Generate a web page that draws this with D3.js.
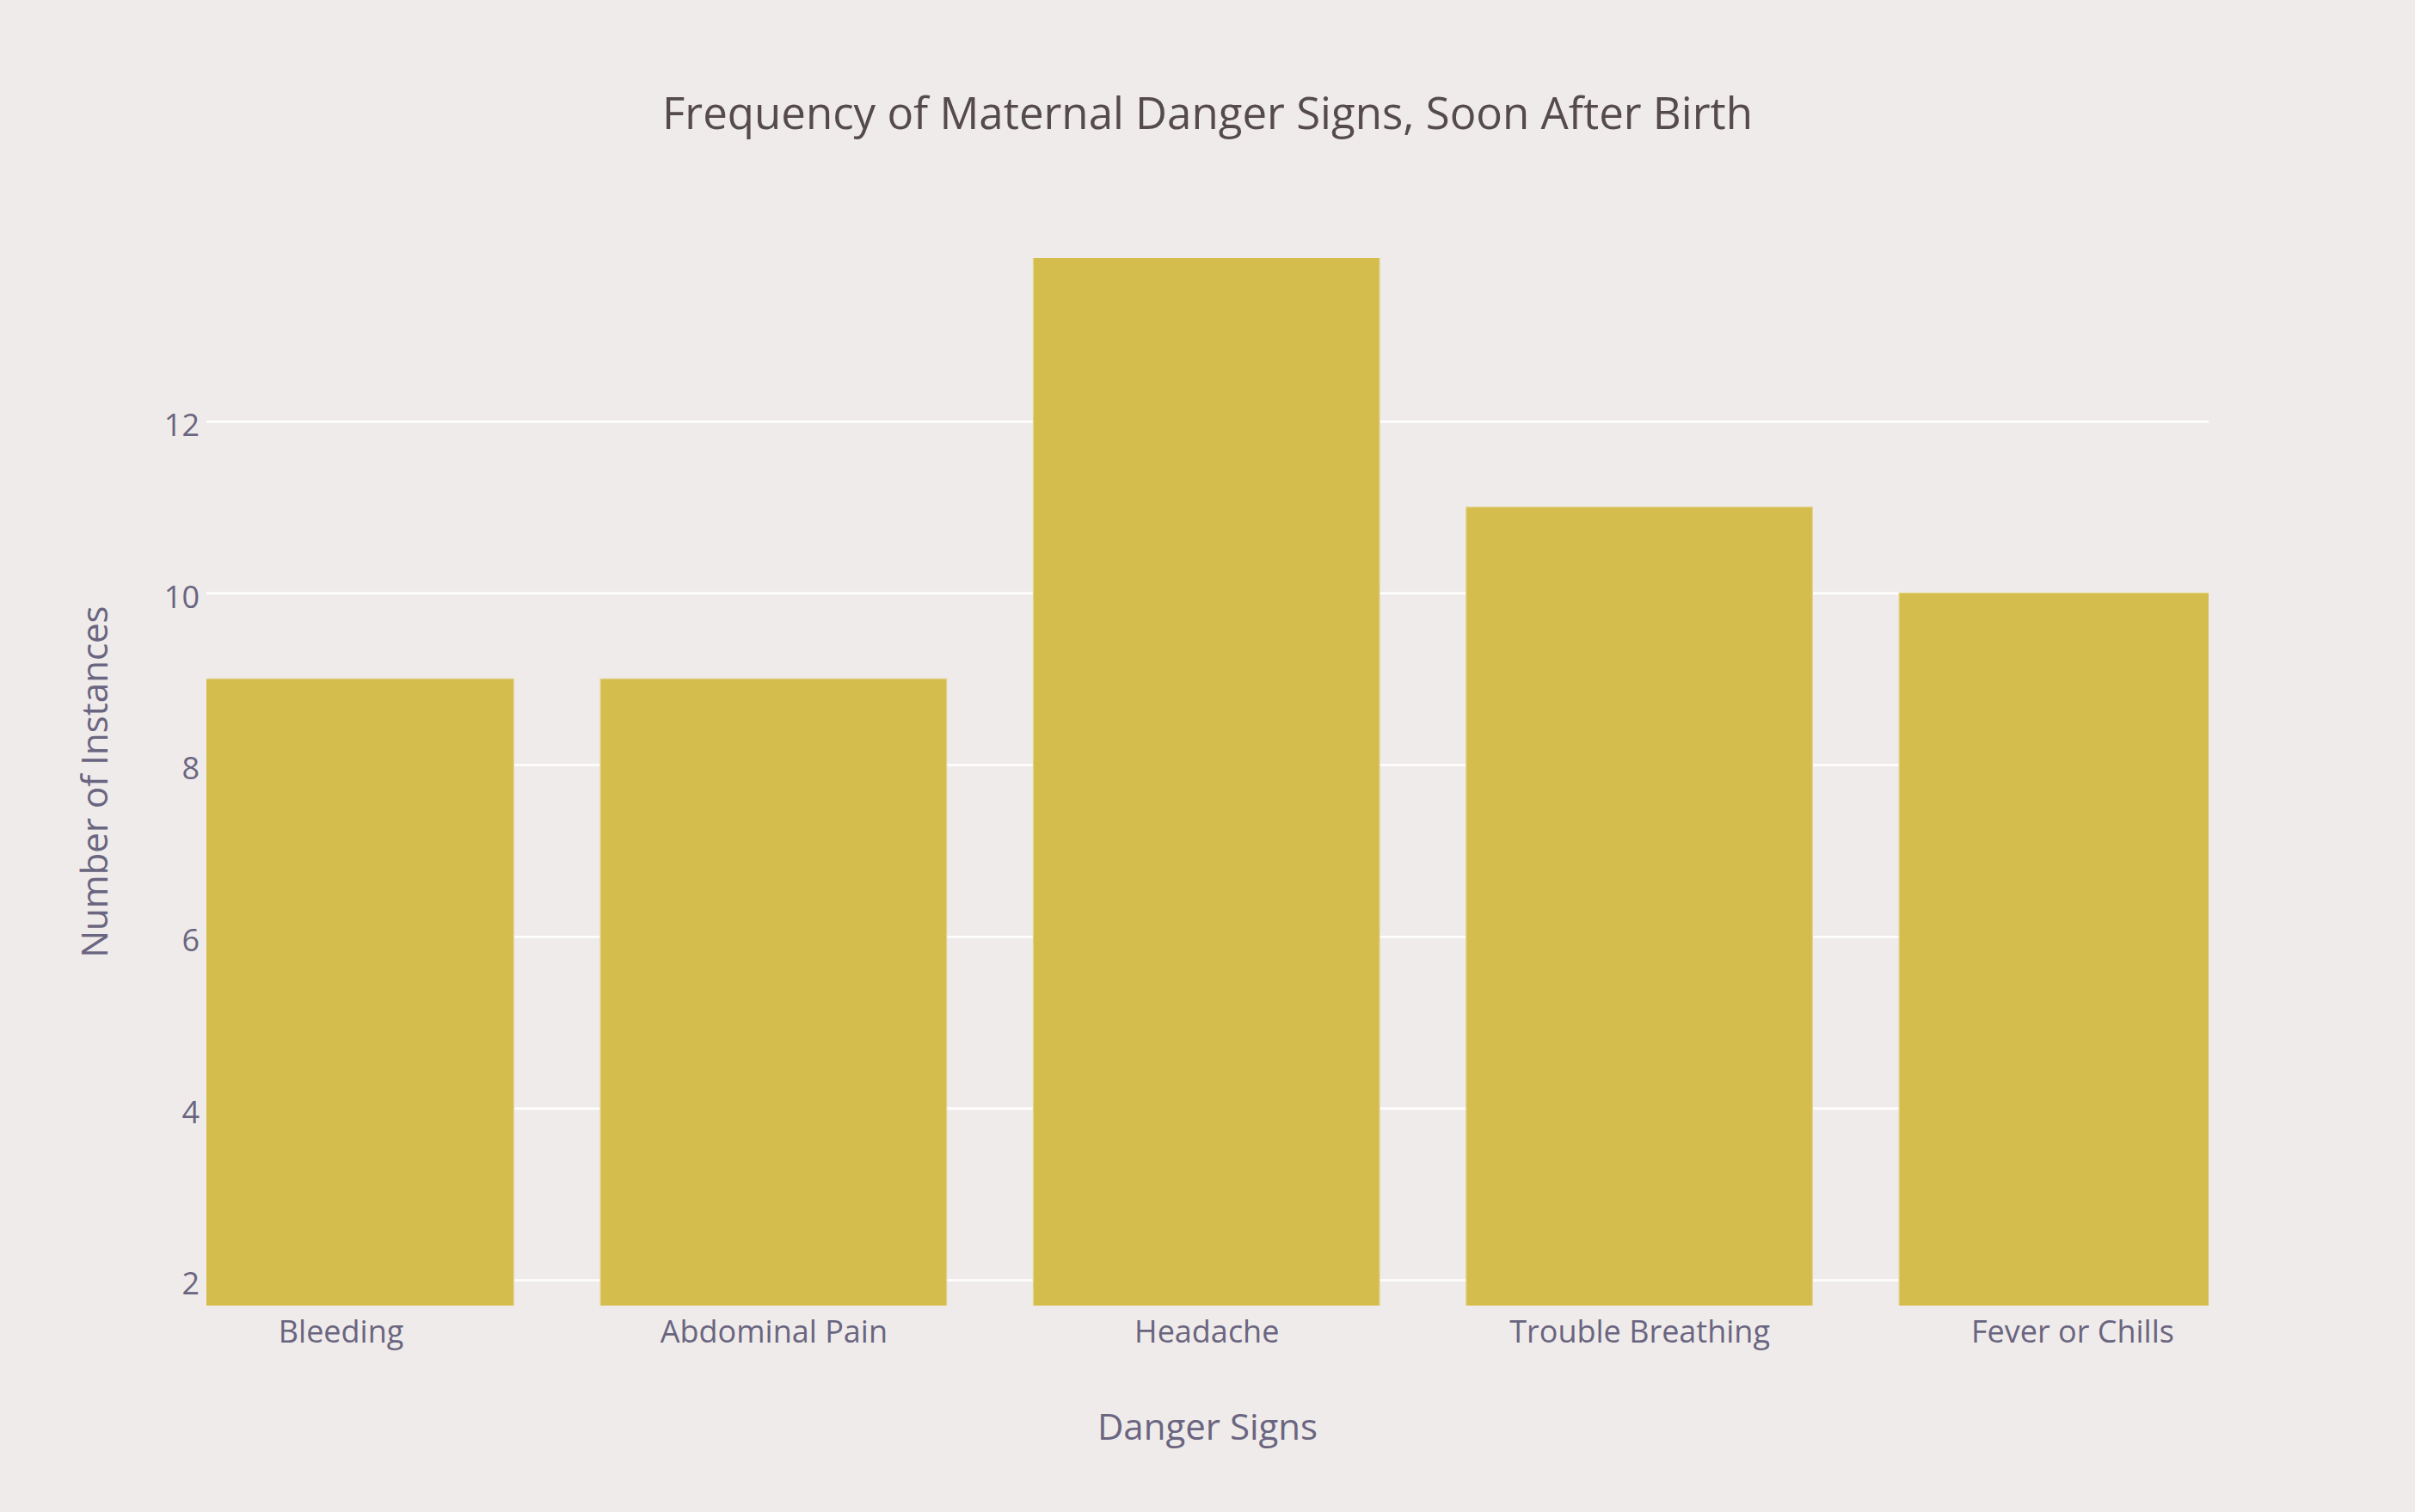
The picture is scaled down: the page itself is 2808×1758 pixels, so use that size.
<!DOCTYPE html>
<html>
<head>
<meta charset="utf-8">
<script src="https://cdn.jsdelivr.net/npm/d3@7/dist/d3.min.js"></script>
<style>
  html, body { margin: 0; padding: 0; background: #efebea; }
  svg { display: block; }
  text { font-family: "Open Sans", sans-serif; }
</style>
</head>
<body>
<svg id="chart" width="2808" height="1758"></svg>
<script>
// ---- Data ----
const categories = ["Bleeding", "Abdominal Pain", "Headache", "Trouble Breathing", "Fever or Chills"];
const values = [9, 9, 14, 11, 10];
const yTicks = [2, 4, 6, 8, 10, 12];
const yRange = [1.7, 13.9];
const xRange = [-0.31, 4.315];

const chartTitle = "Frequency of Maternal Danger Signs, Soon After Birth";
const xTitle = "Danger Signs";
const yTitle = "Number of Instances";

// ---- Layout ----
const W = 2808, H = 1758;
const margin = { left: 240, right: 240, top: 300, bottom: 240 };
const pw = W - margin.left - margin.right;
const ph = H - margin.top - margin.bottom;

const colors = {
  bg: "#efebea",
  bar: "#d4bd4c",
  barEdge: "#e2d594",
  grid: "#ffffff",
  tick: "#6a6580",
  title: "#554b4e"
};

const svg = d3.select("#chart");
svg.append("rect").attr("width", W).attr("height", H).attr("fill", colors.bg);

const x = d3.scaleLinear().domain(xRange).range([0, pw]);
const y = d3.scaleLinear().domain(yRange).range([ph, 0]);
const step = x(1) - x(0);
const barW = step * 0.8;

svg.append("defs").append("clipPath").attr("id", "plotclip")
  .append("rect").attr("x", 0).attr("y", 0).attr("width", pw).attr("height", ph);

const g = svg.append("g").attr("transform", `translate(${margin.left},${margin.top})`);

// gridlines
const grid = g.append("g")
  .call(d3.axisLeft(y).tickValues(yTicks).tickSize(-pw).tickFormat(""));
grid.select(".domain").remove();
grid.selectAll("line").attr("stroke", colors.grid).attr("stroke-width", 2.6);

// bars
g.append("g").attr("clip-path", "url(#plotclip)")
  .selectAll("rect").data(values).join("rect")
  .attr("x", (d, i) => x(i) - barW / 2)
  .attr("width", barW)
  .attr("y", d => y(d))
  .attr("height", d => y(0) - y(d))
  .attr("fill", colors.bar)
  .attr("stroke", colors.barEdge)
  .attr("stroke-width", 1.2);

// y tick labels
const yAxis = g.append("g")
  .call(d3.axisLeft(y).tickValues(yTicks).tickSize(0).tickPadding(8));
yAxis.select(".domain").remove();
yAxis.selectAll("text")
  .attr("fill", colors.tick)
  .style("font-size", "36px")
  .attr("dy", "0.47em");

// x tick labels
const xAxis = g.append("g").attr("transform", `translate(0,${ph})`)
  .call(d3.axisBottom(x).tickValues(d3.range(categories.length))
    .tickFormat(i => categories[i]).tickSize(0));
xAxis.select(".domain").remove();
xAxis.selectAll("text")
  .attr("fill", colors.tick)
  .style("font-size", "36px")
  .attr("y", 42.7)
  .attr("dy", 0);

// titles
svg.append("text")
  .attr("x", margin.left + pw / 2).attr("y", 150)
  .attr("text-anchor", "middle")
  .attr("fill", colors.title)
  .style("font-size", "51px")
  .text(chartTitle);

svg.append("text")
  .attr("x", margin.left + pw / 2).attr("y", 1674)
  .attr("text-anchor", "middle")
  .attr("fill", colors.tick)
  .style("font-size", "42px")
  .text(xTitle);

svg.append("text")
  .attr("transform", `translate(125,${margin.top + ph / 2}) rotate(-90)`)
  .attr("text-anchor", "middle")
  .attr("fill", colors.tick)
  .style("font-size", "42px")
  .text(yTitle);
</script>
</body>
</html>
